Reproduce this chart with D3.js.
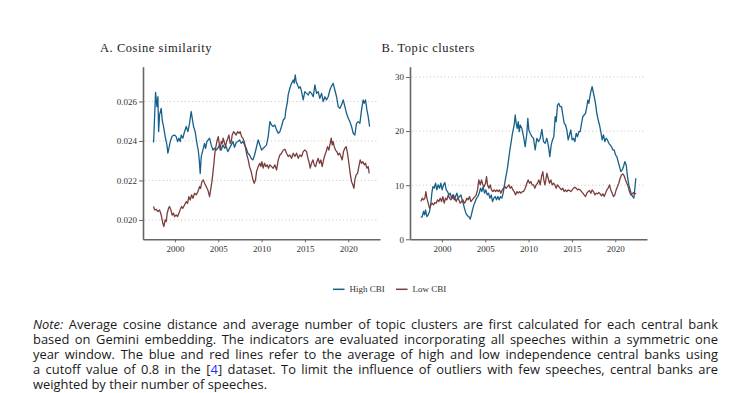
<!DOCTYPE html>
<html lang="en">
<head>
<meta charset="UTF-8">
<title>Speech similarity and topic clusters by CBI</title>
<script src="https://d3js.org/d3.v7.min.js"></script>
<style>
  body { margin: 0; background: #fff; position: relative; width: 732px; height: 393px; overflow: hidden; }
  svg { display: block; position: absolute; left: 0; top: 0; }
  .axis .tick text { font-family: "Liberation Serif", serif; font-size: 9px; fill: #333; }
  .axis .domain { stroke: #666; stroke-width: 1.6; }
  .axis .tick line { stroke: #666; }
  .grid { stroke: #c4c4c4; stroke-dasharray: 1 2.6; }
  .title { font-family: "Liberation Serif", serif; font-size: 12.5px; fill: #222; letter-spacing: .55px; }
  .legend text { font-family: "Liberation Serif", serif; font-size: 9px; fill: #333; }
  #note { position: absolute; left: 33px; top: 316.5px; width: 685px;
          font-family: "Open Sans", sans-serif; font-size: 12.9px; line-height: 15px; color: #1a1a1a; }
  #note div { text-align: justify; text-align-last: justify; white-space: nowrap; }
  #note div:last-child { text-align: left; text-align-last: left; }
  #note .ref { color: #2a2aff; }
</style>
</head>
<body>
<svg width="732" height="393"></svg>
<div id="note"></div>
<script>
// series names / colours
const seriesNames = ["High CBI", "Low CBI"];
const seriesColors = ["#17608a", "#7b3c3c"];

// tick labels
const yearTicks = [2000, 2005, 2010, 2015, 2020];
const cosTicks = [0.020, 0.022, 0.024, 0.026];
const topicTicks = [0, 10, 20, 30];

// A. Cosine similarity, [year, value]
const cosHigh = [[1997.54,0.02392],[1997.77,0.02646],[1997.92,0.02574],[1998.04,0.02624],[1998.12,0.02447],[1998.23,0.02532],[1998.42,0.02565],[1998.54,0.02506],[1998.69,0.02473],[1998.88,0.02422],[1999.08,0.02380],[1999.19,0.02338],[1999.31,0.02363],[1999.46,0.02397],[1999.69,0.02425],[1999.96,0.02430],[2000.15,0.02422],[2000.31,0.02397],[2000.46,0.02414],[2000.61,0.02397],[2000.73,0.02430],[2000.92,0.02414],[2001.11,0.02447],[2001.31,0.02473],[2001.50,0.02447],[2001.69,0.02489],[2001.88,0.02549],[2002.00,0.02515],[2002.15,0.02473],[2002.34,0.02447],[2002.54,0.02388],[2002.69,0.02354],[2002.81,0.02304],[2002.92,0.02236],[2003.04,0.02321],[2003.23,0.02354],[2003.42,0.02388],[2003.54,0.02363],[2003.69,0.02397],[2003.84,0.02405],[2004.00,0.02414],[2004.19,0.02380],[2004.38,0.02354],[2004.57,0.02363],[2004.77,0.02354],[2004.96,0.02363],[2005.15,0.02380],[2005.34,0.02354],[2005.54,0.02380],[2005.73,0.02363],[2005.92,0.02371],[2006.11,0.02346],[2006.30,0.02363],[2006.50,0.02380],[2006.69,0.02397],[2006.88,0.02368],[2007.07,0.02392],[2007.27,0.02397],[2007.46,0.02405],[2007.65,0.02388],[2007.84,0.02397],[2008.04,0.02380],[2008.23,0.02363],[2008.42,0.02338],[2008.61,0.02329],[2008.80,0.02312],[2009.00,0.02304],[2009.19,0.02329],[2009.38,0.02363],[2009.61,0.02405],[2009.80,0.02380],[2010.00,0.02354],[2010.19,0.02363],[2010.38,0.02371],[2010.57,0.02380],[2010.76,0.02422],[2010.96,0.02498],[2011.15,0.02481],[2011.34,0.02473],[2011.53,0.02481],[2011.73,0.02456],[2011.92,0.02439],[2012.11,0.02447],[2012.30,0.02473],[2012.50,0.02506],[2012.69,0.02515],[2012.80,0.02557],[2012.96,0.02591],[2013.07,0.02633],[2013.26,0.02667],[2013.46,0.02692],[2013.65,0.02709],[2013.76,0.02692],[2013.88,0.02734],[2013.99,0.02700],[2014.15,0.02684],[2014.30,0.02667],[2014.46,0.02675],[2014.61,0.02650],[2014.80,0.02608],[2014.99,0.02650],[2015.19,0.02641],[2015.38,0.02633],[2015.57,0.02650],[2015.76,0.02641],[2015.96,0.02624],[2016.15,0.02684],[2016.34,0.02641],[2016.53,0.02650],[2016.72,0.02616],[2016.92,0.02641],[2017.11,0.02599],[2017.30,0.02624],[2017.49,0.02608],[2017.68,0.02624],[2017.88,0.02658],[2018.07,0.02678],[2018.26,0.02692],[2018.45,0.02658],[2018.65,0.02624],[2018.84,0.02574],[2019.03,0.02565],[2019.22,0.02582],[2019.42,0.02608],[2019.61,0.02574],[2019.80,0.02540],[2020.00,0.02515],[2020.18,0.02498],[2020.38,0.02473],[2020.57,0.02439],[2020.76,0.02430],[2020.95,0.02489],[2021.15,0.02498],[2021.34,0.02489],[2021.53,0.02557],[2021.72,0.02608],[2021.84,0.02591],[2021.99,0.02608],[2022.15,0.02557],[2022.30,0.02523],[2022.46,0.02473]];

const cosLow = [[1997.54,0.02068],[1997.65,0.02051],[1997.85,0.02054],[1998.04,0.02042],[1998.23,0.02051],[1998.42,0.02025],[1998.61,0.01983],[1998.73,0.01966],[1998.88,0.02000],[1999.00,0.01992],[1999.11,0.02034],[1999.27,0.02059],[1999.38,0.02068],[1999.54,0.02051],[1999.69,0.02025],[1999.84,0.02034],[1999.96,0.02017],[2000.15,0.02025],[2000.31,0.02017],[2000.46,0.02034],[2000.61,0.02051],[2000.77,0.02068],[2000.92,0.02059],[2001.11,0.02076],[2001.31,0.02093],[2001.46,0.02084],[2001.61,0.02118],[2001.77,0.02101],[2001.92,0.02127],[2002.08,0.02110],[2002.27,0.02135],[2002.46,0.02127],[2002.65,0.02143],[2002.85,0.02169],[2002.96,0.02160],[2003.11,0.02194],[2003.27,0.02203],[2003.42,0.02186],[2003.61,0.02169],[2003.80,0.02152],[2004.00,0.02118],[2004.15,0.02160],[2004.27,0.02194],[2004.38,0.02236],[2004.50,0.02287],[2004.61,0.02338],[2004.73,0.02371],[2004.84,0.02397],[2005.00,0.02422],[2005.11,0.02388],[2005.23,0.02354],[2005.34,0.02397],[2005.46,0.02388],[2005.57,0.02414],[2005.73,0.02388],[2005.84,0.02371],[2005.96,0.02397],[2006.11,0.02414],[2006.23,0.02430],[2006.38,0.02388],[2006.50,0.02397],[2006.61,0.02430],[2006.77,0.02447],[2006.92,0.02439],[2007.07,0.02430],[2007.23,0.02447],[2007.38,0.02439],[2007.53,0.02447],[2007.69,0.02422],[2007.84,0.02414],[2008.00,0.02397],[2008.15,0.02363],[2008.30,0.02329],[2008.46,0.02304],[2008.61,0.02270],[2008.80,0.02245],[2009.00,0.02203],[2009.15,0.02186],[2009.30,0.02203],[2009.42,0.02245],[2009.61,0.02270],[2009.80,0.02287],[2009.92,0.02270],[2010.03,0.02295],[2010.19,0.02262],[2010.34,0.02287],[2010.50,0.02270],[2010.65,0.02279],[2010.80,0.02262],[2010.96,0.02279],[2011.15,0.02270],[2011.34,0.02262],[2011.53,0.02279],[2011.73,0.02253],[2011.92,0.02304],[2012.11,0.02329],[2012.30,0.02338],[2012.50,0.02354],[2012.69,0.02358],[2012.88,0.02338],[2013.07,0.02321],[2013.26,0.02329],[2013.46,0.02312],[2013.65,0.02338],[2013.84,0.02321],[2014.03,0.02338],[2014.23,0.02312],[2014.42,0.02329],[2014.61,0.02321],[2014.80,0.02346],[2014.99,0.02354],[2015.19,0.02346],[2015.30,0.02321],[2015.46,0.02295],[2015.61,0.02262],[2015.76,0.02287],[2015.92,0.02304],[2016.07,0.02279],[2016.23,0.02270],[2016.38,0.02295],[2016.53,0.02312],[2016.69,0.02287],[2016.84,0.02304],[2016.99,0.02270],[2017.15,0.02304],[2017.30,0.02329],[2017.45,0.02346],[2017.61,0.02371],[2017.76,0.02354],[2017.92,0.02388],[2018.03,0.02414],[2018.15,0.02380],[2018.26,0.02397],[2018.38,0.02371],[2018.53,0.02354],[2018.68,0.02346],[2018.84,0.02329],[2019.00,0.02338],[2019.15,0.02321],[2019.30,0.02304],[2019.45,0.02346],[2019.61,0.02363],[2019.76,0.02371],[2019.91,0.02338],[2020.07,0.02287],[2020.22,0.02236],[2020.38,0.02194],[2020.53,0.02177],[2020.65,0.02160],[2020.76,0.02203],[2020.91,0.02228],[2021.07,0.02236],[2021.22,0.02270],[2021.38,0.02304],[2021.53,0.02287],[2021.68,0.02295],[2021.84,0.02279],[2021.99,0.02287],[2022.15,0.02262],[2022.30,0.02270],[2022.42,0.02236]];

// B. Topic clusters, [year, value]
const topicHigh = [[1997.57,4.03],[1997.73,4.21],[1997.88,5.14],[1998.00,4.52],[1998.11,5.44],[1998.27,4.21],[1998.42,4.52],[1998.57,5.14],[1998.73,6.67],[1998.84,8.52],[1998.96,9.75],[1999.11,9.44],[1999.27,10.36],[1999.42,9.13],[1999.57,10.06],[1999.73,9.44],[1999.88,10.36],[2000.03,9.13],[2000.19,10.06],[2000.34,10.49],[2000.50,9.13],[2000.65,8.82],[2000.80,8.21],[2000.96,8.52],[2001.11,7.60],[2001.26,8.21],[2001.42,7.29],[2001.57,7.90],[2001.73,8.52],[2001.88,7.60],[2002.03,7.90],[2002.19,8.21],[2002.34,7.29],[2002.50,6.36],[2002.65,5.44],[2002.80,4.70],[2002.96,4.34],[2003.11,4.21],[2003.26,3.72],[2003.38,4.34],[2003.53,5.44],[2003.69,6.36],[2003.84,6.98],[2003.99,7.60],[2004.15,7.90],[2004.30,8.52],[2004.46,9.44],[2004.61,8.82],[2004.76,9.75],[2004.92,8.52],[2005.07,9.13],[2005.23,8.21],[2005.38,8.52],[2005.53,7.60],[2005.69,8.21],[2005.84,6.98],[2005.99,7.60],[2006.15,7.90],[2006.30,7.29],[2006.46,7.90],[2006.61,7.29],[2006.76,7.90],[2006.92,7.60],[2007.07,8.52],[2007.22,10.06],[2007.38,11.59],[2007.53,12.82],[2007.69,14.67],[2007.84,16.51],[2008.00,18.05],[2008.11,19.28],[2008.22,20.20],[2008.34,21.13],[2008.46,22.97],[2008.57,21.43],[2008.69,20.51],[2008.80,21.74],[2008.92,19.89],[2009.03,21.13],[2009.22,20.51],[2009.42,18.97],[2009.61,17.13],[2009.80,19.59],[2009.91,22.35],[2010.03,20.20],[2010.18,19.59],[2010.38,18.97],[2010.57,18.67],[2010.76,16.51],[2010.95,18.67],[2011.15,18.05],[2011.34,18.67],[2011.53,20.33],[2011.72,18.05],[2011.91,17.74],[2012.11,18.67],[2012.30,17.13],[2012.45,15.28],[2012.61,17.44],[2012.76,18.36],[2012.91,18.97],[2013.07,22.66],[2013.18,21.74],[2013.34,24.81],[2013.49,25.12],[2013.64,24.51],[2013.80,24.51],[2013.95,22.97],[2014.11,21.43],[2014.26,21.13],[2014.41,20.20],[2014.57,18.36],[2014.72,19.28],[2014.87,20.20],[2015.03,18.36],[2015.18,18.67],[2015.34,18.05],[2015.49,19.59],[2015.64,18.97],[2015.80,19.89],[2015.95,19.89],[2016.11,21.43],[2016.26,22.66],[2016.41,22.97],[2016.57,23.28],[2016.72,24.51],[2016.83,25.74],[2016.95,25.12],[2017.07,26.35],[2017.18,27.27],[2017.33,28.20],[2017.45,27.27],[2017.57,26.35],[2017.72,25.12],[2017.87,23.28],[2018.03,22.05],[2018.18,21.13],[2018.33,19.89],[2018.49,18.36],[2018.64,19.28],[2018.80,18.05],[2018.95,18.67],[2019.10,18.36],[2019.26,17.74],[2019.41,17.44],[2019.56,17.13],[2019.72,16.51],[2019.87,16.51],[2020.03,15.59],[2020.18,15.28],[2020.33,14.36],[2020.49,13.44],[2020.64,12.52],[2020.80,12.82],[2020.95,13.44],[2021.10,14.36],[2021.26,13.75],[2021.41,11.59],[2021.56,10.06],[2021.72,9.13],[2021.87,8.21],[2022.03,7.90],[2022.14,7.60],[2022.26,9.44],[2022.37,11.28]];

const topicLow = [[1997.57,6.98],[1997.73,7.60],[1997.88,7.29],[1998.04,7.60],[1998.15,8.82],[1998.27,7.60],[1998.42,6.67],[1998.57,5.75],[1998.73,6.36],[1998.88,6.67],[1999.03,6.36],[1999.19,6.80],[1999.34,6.67],[1999.50,7.29],[1999.65,6.98],[1999.80,7.60],[1999.96,6.98],[2000.11,7.90],[2000.27,6.67],[2000.42,7.60],[2000.57,7.29],[2000.73,8.21],[2000.88,7.60],[2001.03,7.29],[2001.19,7.60],[2001.34,8.21],[2001.50,7.60],[2001.65,6.98],[2001.80,7.60],[2001.96,7.29],[2002.11,6.67],[2002.26,6.98],[2002.42,7.29],[2002.57,6.67],[2002.73,6.98],[2002.88,7.60],[2003.03,7.29],[2003.19,7.90],[2003.34,6.98],[2003.50,7.29],[2003.65,7.60],[2003.80,7.90],[2003.96,8.21],[2004.11,9.13],[2004.26,10.98],[2004.42,10.06],[2004.57,10.98],[2004.73,10.06],[2004.88,9.75],[2005.03,10.36],[2005.15,11.59],[2005.26,10.06],[2005.42,9.44],[2005.57,10.06],[2005.72,9.13],[2005.88,8.82],[2006.03,9.13],[2006.19,8.82],[2006.34,9.13],[2006.49,8.82],[2006.65,9.13],[2006.80,8.52],[2006.96,9.13],[2007.11,9.44],[2007.26,9.75],[2007.42,9.44],[2007.57,9.75],[2007.72,10.06],[2007.88,9.44],[2008.03,9.75],[2008.19,9.13],[2008.34,8.82],[2008.49,8.21],[2008.65,8.82],[2008.80,8.52],[2008.95,8.82],[2009.11,8.52],[2009.26,8.82],[2009.42,8.82],[2009.61,9.44],[2009.80,10.36],[2009.95,10.98],[2010.11,10.36],[2010.26,10.67],[2010.41,10.06],[2010.57,10.06],[2010.72,9.44],[2010.88,10.06],[2011.03,10.36],[2011.18,10.98],[2011.34,10.06],[2011.49,11.59],[2011.64,12.52],[2011.76,10.98],[2011.88,10.06],[2011.99,10.98],[2012.11,12.21],[2012.26,11.28],[2012.41,10.36],[2012.57,10.98],[2012.72,10.06],[2012.88,10.36],[2013.03,10.06],[2013.18,9.44],[2013.34,10.06],[2013.49,9.75],[2013.64,9.44],[2013.80,9.13],[2013.95,9.44],[2014.11,8.82],[2014.26,9.13],[2014.41,8.82],[2014.57,9.13],[2014.72,9.01],[2014.87,8.82],[2015.03,9.13],[2015.18,9.44],[2015.34,9.63],[2015.49,9.44],[2015.64,9.13],[2015.80,9.26],[2015.95,9.13],[2016.11,8.82],[2016.26,8.52],[2016.41,8.21],[2016.57,7.90],[2016.72,8.52],[2016.87,8.82],[2017.03,9.01],[2017.18,8.52],[2017.33,9.13],[2017.49,8.82],[2017.64,8.21],[2017.80,8.52],[2017.95,8.39],[2018.10,8.64],[2018.26,8.39],[2018.41,8.02],[2018.56,8.39],[2018.72,7.90],[2018.87,8.52],[2019.03,9.13],[2019.18,9.44],[2019.33,10.06],[2019.49,9.13],[2019.64,8.52],[2019.80,7.90],[2019.95,8.21],[2020.10,9.13],[2020.26,9.75],[2020.41,10.36],[2020.56,11.28],[2020.72,11.90],[2020.87,12.08],[2021.03,11.71],[2021.18,10.98],[2021.33,10.36],[2021.49,9.75],[2021.64,8.82],[2021.80,8.21],[2021.95,8.39],[2022.10,8.64],[2022.26,8.39],[2022.41,8.52]];

const noteLines = [
  [["Note:", "i"], [" Average cosine distance and average number of topic clusters are first calculated for each central bank"]],
  [["based on Gemini embedding.  The indicators are evaluated incorporating all speeches within a symmetric one"]],
  [["year window.  The blue and red lines refer to the average of high and low independence central banks using"]],
  [["a cutoff value of 0.8 in the ["], ["4", "ref"], ["] dataset.  To limit the influence of outliers with few speeches, central banks are"]],
  [["weighted by their number of speeches."]]
];

const svg = d3.select("svg");
const plotTop = 66.7, plotBottom = 239.3;
const xDomain = [1996.32, 2023.66];

const panels = [
  { title: "A. Cosine similarity", titleX: 100, left: 143, right: 380,
    yDomain: [0.01902, 0.02776], ticks: cosTicks, fmt: d3.format(".3f"), series: [cosHigh, cosLow] },
  { title: "B. Topic clusters", titleX: 381.5, left: 410, right: 647,
    yDomain: [0, 31.9], ticks: topicTicks, fmt: d3.format("d"), series: [topicHigh, topicLow] }
];

panels.forEach(p => {
  const x = d3.scaleLinear().domain(xDomain).range([p.left, p.right]);
  const y = d3.scaleLinear().domain(p.yDomain).range([plotBottom, plotTop]);
  const g = svg.append("g");

  g.append("text").attr("class", "title")
    .attr("x", p.titleX).attr("y", 51.5).text(p.title);

  g.selectAll(".grid").data(p.ticks).enter().append("line")
    .attr("class", "grid")
    .attr("x1", p.left + 2).attr("x2", p.right - 3)
    .attr("y1", d => y(d)).attr("y2", d => y(d));

  const line = d3.line().x(d => x(d[0])).y(d => y(d[1]));
  p.series.forEach((s, i) => {
    g.append("path").datum(s)
      .attr("fill", "none")
      .attr("stroke", seriesColors[i])
      .attr("stroke-width", 1.3)
      .attr("stroke-linejoin", "round")
      .attr("d", line);
  });

  g.append("g").attr("class", "axis")
    .attr("transform", `translate(${p.left},0)`)
    .call(d3.axisLeft(y).tickValues(p.ticks).tickFormat(p.fmt)
      .tickSize(4).tickSizeOuter(0).tickPadding(2));

  g.append("g").attr("class", "axis")
    .attr("transform", `translate(0,${plotBottom})`)
    .call(d3.axisBottom(x).tickValues(yearTicks).tickFormat(d3.format("d"))
      .tickSize(3).tickSizeOuter(0).tickPadding(3));
});

// legend
const legendPos = [{ x: 333, tx: 349.5 }, { x: 396, tx: 412.5 }];
const legend = svg.append("g").attr("class", "legend");
seriesNames.forEach((name, i) => {
  legend.append("line")
    .attr("x1", legendPos[i].x).attr("x2", legendPos[i].x + 11.5)
    .attr("y1", 289.3).attr("y2", 289.3)
    .attr("stroke", seriesColors[i]).attr("stroke-width", 1.5);
  legend.append("text").attr("x", legendPos[i].tx).attr("y", 292.3).text(name);
});

// note under the figure (justified lines, as in the source)
const note = d3.select("#note");
noteLines.forEach(parts => {
  const div = note.append("div");
  parts.forEach(([txt, kind]) => {
    const sp = div.append("span").text(txt);
    if (kind === "i") sp.style("font-style", "italic");
    if (kind === "ref") sp.attr("class", "ref");
  });
});
</script>
</body>
</html>
